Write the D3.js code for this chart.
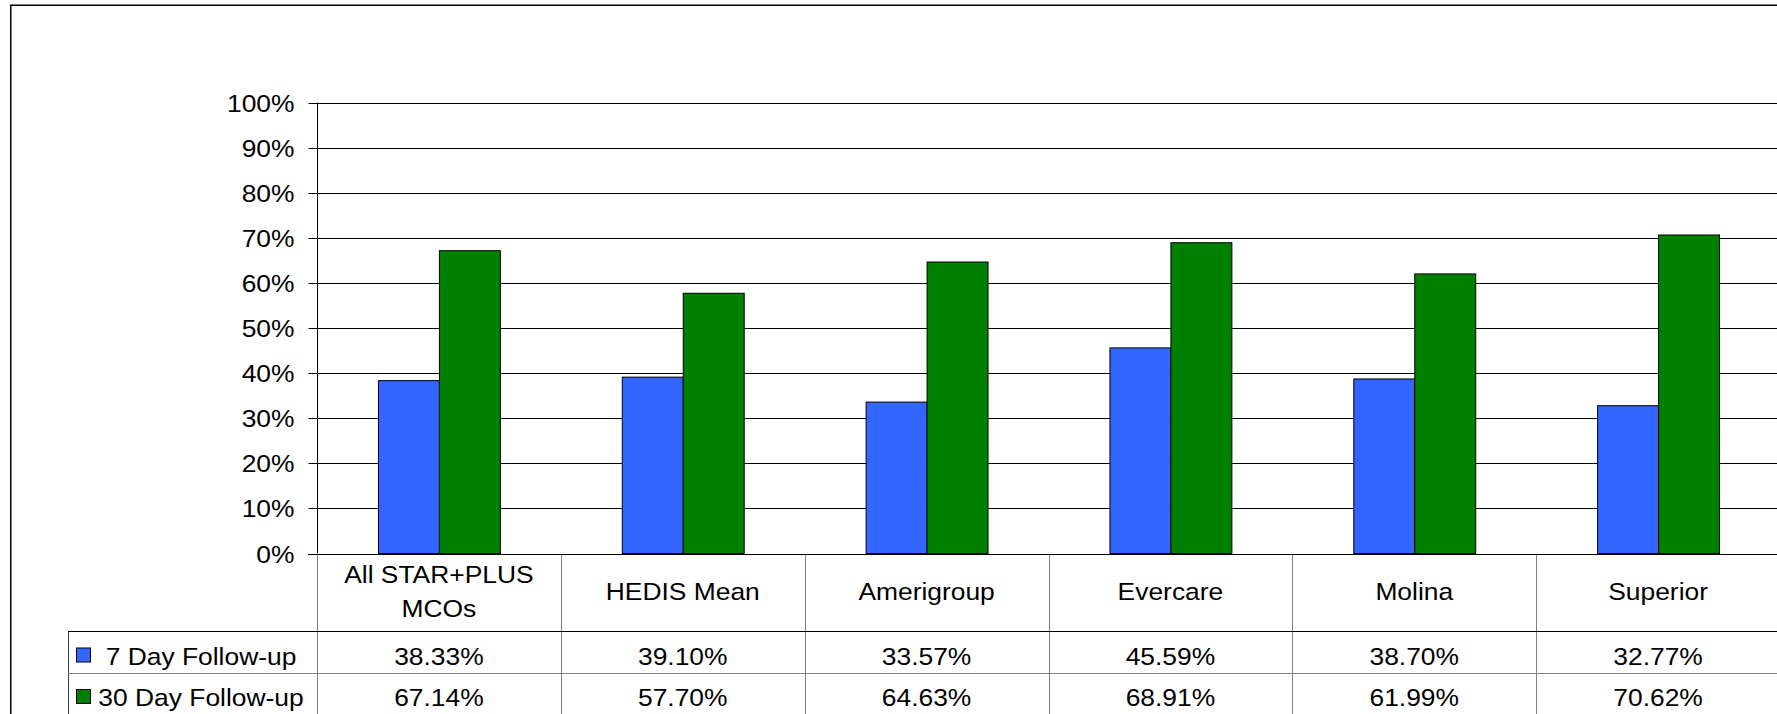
<!DOCTYPE html>
<html>
<head>
<meta charset="utf-8">
<script src="https://cdn.jsdelivr.net/npm/d3@7"></script>
<style>
  html, body { margin: 0; padding: 0; background: #fff; }
  svg { display: block; }
  text { font-family: "Liberation Sans", Arial, sans-serif; font-size: 24px; fill: #000; }
</style>
</head>
<body>
<svg id="chart" width="1777" height="714"></svg>
<script>
// ---- data ----
const categories = ["All STAR+PLUS\nMCOs", "HEDIS Mean", "Amerigroup", "Evercare", "Molina", "Superior"];
const seriesNames = ["7 Day Follow-up", "30 Day Follow-up"];
const day7 = [38.33, 39.10, 33.57, 45.59, 38.70, 32.77];
const day30 = [67.14, 57.70, 64.63, 68.91, 61.99, 70.62];
const yTicks = [0, 10, 20, 30, 40, 50, 60, 70, 80, 90, 100];
const seriesColors = ["#3366FF", "#008000"];

const series = [day7, day30];

const svg = d3.select("#chart");
const W = 1777, H = 714;

const plotLeft = 317, plotRight = 1780, plotTop = 102.5, plotBottom = 553.5;
const tableRow1 = 631, tableRow2 = 673, tableBottom = 760;
const legendLeft = 68;

const x0 = d3.scaleBand().domain(categories).range([plotLeft, plotRight]).padding(0);
const x1 = d3.scaleBand().domain([0, 1]).range([x0.bandwidth() / 4, x0.bandwidth() * 3 / 4]).padding(0);
const y = d3.scaleLinear().domain([0, 100]).range([plotBottom, plotTop]);

const SX = 1.1;
function addText(g, x, yy, str, anchor) {
  return g.append("text")
    .attr("transform", `translate(${x},${yy}) scale(${SX},1)`)
    .attr("text-anchor", anchor || "middle")
    .text(str);
}

// outer border
svg.append("rect")
  .attr("x", 10.75).attr("y", 5.25)
  .attr("width", 2000).attr("height", 1000)
  .attr("fill", "none").attr("stroke", "#000").attr("stroke-width", 1.5);

// gridlines
svg.append("g").selectAll("line").data(yTicks.filter(d => d > 0)).join("line")
  .attr("x1", plotLeft).attr("x2", W + 10)
  .attr("y1", d => Math.round(y(d)) + 0.5).attr("y2", d => Math.round(y(d)) + 0.5)
  .attr("stroke", "#000").attr("stroke-width", 1);

// y axis
const yAxis = d3.axisLeft(y).tickValues(yTicks).tickFormat(d => d + "%").tickSize(9).tickPadding(14);
const ag = svg.append("g").attr("transform", `translate(${plotLeft + 0.5},0)`).call(yAxis);
ag.select(".domain").remove();
ag.selectAll(".tick line").attr("stroke", "#000");
ag.selectAll(".tick text").each(function(d) {
  const t = d3.select(this);
  t.attr("x", null).attr("dy", null)
   .attr("transform", `translate(-23,8.5) scale(${SX},1)`)
   .attr("font-size", 24).attr("font-family", '"Liberation Sans", Arial, sans-serif')
   .attr("fill", "#000").attr("text-anchor", "end");
});
ag.selectAll(".tick").attr("transform", d => `translate(0,${Math.round(y(d)) + 0.5})`);

// bars
const groups = svg.append("g").selectAll("g").data(categories).join("g")
  .attr("transform", d => `translate(${x0(d)},0)`);
groups.selectAll("rect").data((d, i) => series.map((s, k) => ({ k, v: s[i] }))).join("rect")
  .attr("x", d => x1(d.k) + 0.5)
  .attr("width", x1.bandwidth())
  .attr("y", d => y(d.v))
  .attr("height", d => plotBottom - y(d.v))
  .attr("fill", d => seriesColors[d.k])
  .attr("stroke", "#000").attr("stroke-width", 1);

// y axis line and baseline
svg.append("line").attr("x1", plotLeft + 0.5).attr("x2", plotLeft + 0.5)
  .attr("y1", plotTop).attr("y2", plotBottom).attr("stroke", "#000");
svg.append("line").attr("x1", plotLeft - 9).attr("x2", W + 10)
  .attr("y1", Math.round(plotBottom) + 0.5).attr("y2", Math.round(plotBottom) + 0.5).attr("stroke", "#000");

// data table
const tg = svg.append("g");
// vertical column lines
const bounds = categories.map(c => x0(c)).concat([plotRight]);
tg.selectAll("line.v").data(bounds).join("line")
  .attr("x1", d => Math.round(d) + 0.5).attr("x2", d => Math.round(d) + 0.5)
  .attr("y1", Math.round(plotBottom) + 1).attr("y2", tableBottom)
  .attr("stroke", "#808080");
// legend left border
tg.append("line").attr("x1", legendLeft + 0.5).attr("x2", legendLeft + 0.5)
  .attr("y1", tableRow1).attr("y2", tableBottom).attr("stroke", "#404040");
// horizontal lines
tg.append("line").attr("x1", legendLeft).attr("x2", W + 10)
  .attr("y1", tableRow1 + 0.5).attr("y2", tableRow1 + 0.5).attr("stroke", "#000");
tg.append("line").attr("x1", legendLeft).attr("x2", W + 10)
  .attr("y1", tableRow2 + 0.5).attr("y2", tableRow2 + 0.5).attr("stroke", "#808080");

// category labels
categories.forEach(c => {
  const lines = c.split("\n");
  const cx = x0(c) + x0.bandwidth() / 2;
  lines.forEach((ln, i) => {
    addText(tg, cx, 600 + (i - (lines.length - 1) / 2) * 33.4, ln, "middle");
  });
});

// value rows
const rowBaselines = [664.5, 706];
series.forEach((s, k) => {
  s.forEach((v, i) => {
    const c = categories[i];
    addText(tg, x0(c) + x0.bandwidth() / 2, rowBaselines[k], v.toFixed(2) + "%", "middle");
  });
  // legend key
  tg.append("rect")
    .attr("x", 76.5).attr("y", rowBaselines[k] - 16.5)
    .attr("width", 14).attr("height", 14)
    .attr("fill", seriesColors[k]).attr("stroke", "#000").attr("stroke-width", 1);
  addText(tg, 201, rowBaselines[k], seriesNames[k], "middle");
});
</script>
</body>
</html>
